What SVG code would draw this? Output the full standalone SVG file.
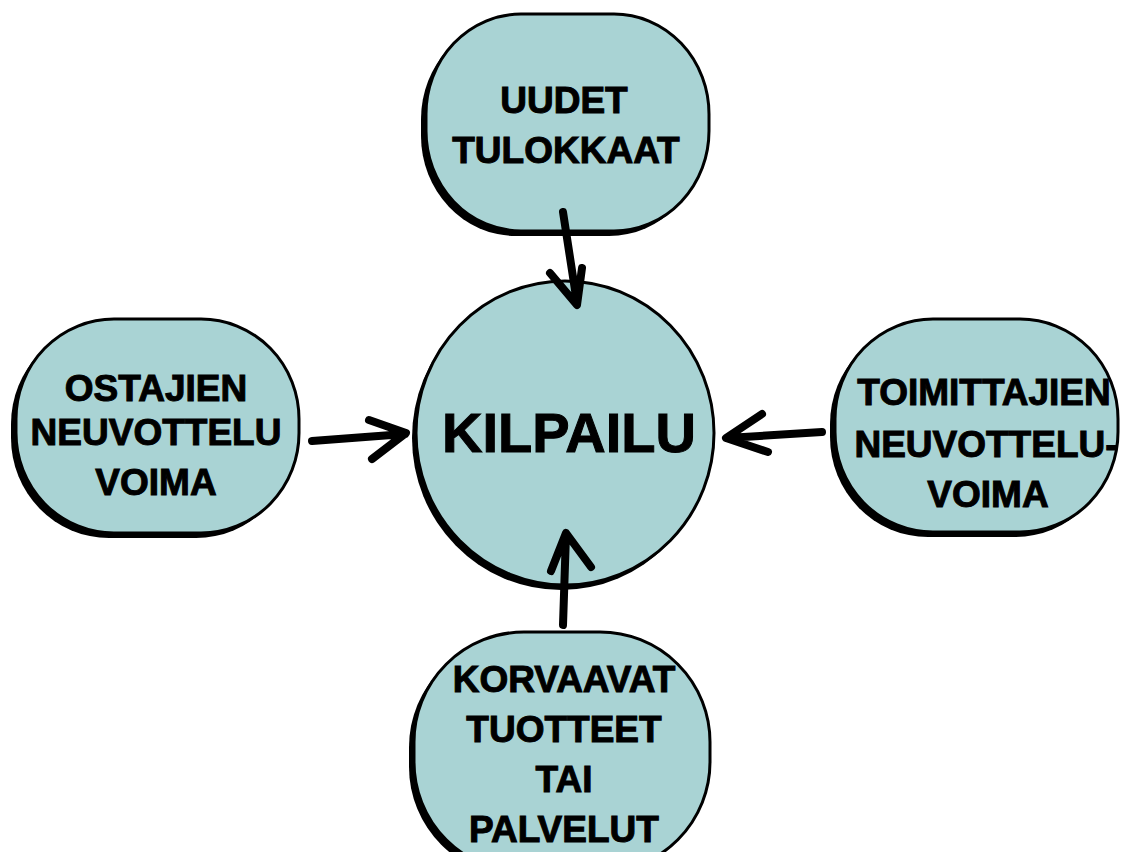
<svg xmlns="http://www.w3.org/2000/svg" width="1122" height="852" viewBox="0 0 1122 852">
<style>
.sh{fill:#000}
.bd{fill:#a9d3d4;stroke:#000;stroke-width:3}
.t{font-family:"Liberation Sans",Arial,sans-serif;font-weight:bold;fill:#000;stroke:#000;stroke-width:1;text-anchor:middle}
.a{fill:none;stroke:#000;stroke-width:8;stroke-linecap:round;stroke-linejoin:round}
</style>
<rect width="1122" height="852" fill="#fff"/>
<g id="node-top">
<rect class="sh" x="421" y="19" width="283" height="217" rx="95" ry="100"/>
<rect class="bd" x="426" y="14" width="283" height="217" rx="95" ry="100"/>
<text class="t" font-size="37" x="564" y="113">UUDET</text>
<text class="t" font-size="37" x="566" y="163">TULOKKAAT</text>
</g>
<g id="node-left">
<rect class="sh" x="11" y="324" width="283" height="214" rx="98" ry="100"/>
<rect class="bd" x="16" y="319" width="283" height="214" rx="98" ry="100"/>
<text class="t" font-size="37" x="156" y="401">OSTAJIEN</text>
<text class="t" font-size="37" x="156" y="445">NEUVOTTELU</text>
<text class="t" font-size="37" x="156" y="495">VOIMA</text>
</g>
<g id="node-right">
<rect class="sh" x="830" y="324" width="283" height="213" rx="98" ry="100"/>
<rect class="bd" x="835" y="319" width="283" height="213" rx="98" ry="100"/>
<text class="t" font-size="37" x="984" y="405">TOIMITTAJIEN</text>
<text class="t" font-size="37" x="986" y="457">NEUVOTTELU-</text>
<text class="t" font-size="37" x="988" y="507">VOIMA</text>
</g>
<g id="node-bottom">
<rect class="sh" x="409" y="637" width="296" height="240" rx="110" ry="110"/>
<rect class="bd" x="414" y="632" width="296" height="240" rx="110" ry="110"/>
<text class="t" font-size="37" x="564" y="692">KORVAAVAT</text>
<text class="t" font-size="37" x="564" y="742">TUOTTEET</text>
<text class="t" font-size="37" x="564" y="792">TAI</text>
<text class="t" font-size="37" x="564" y="842">PALVELUT</text>
</g>
<g id="node-center">
<ellipse class="sh" cx="561" cy="438" rx="149" ry="152"/>
<ellipse class="bd" cx="565" cy="433" rx="149" ry="152"/>
<text class="t" font-size="56" x="569" y="452">KILPAILU</text>
</g>
<g id="connectors">
<path class="a" d="M563 212 L577 303 M550 273 L577 305 L582 268"/>
<path class="a" d="M312 441 L405 434 M369 420 L406 433 L372 459"/>
<path class="a" d="M822 432 L727 438 M762 414 L726 438 L768 452"/>
<path class="a" d="M563 625 L566 534 M551 571 L566 533 L591 567"/>
</g>
</svg>
